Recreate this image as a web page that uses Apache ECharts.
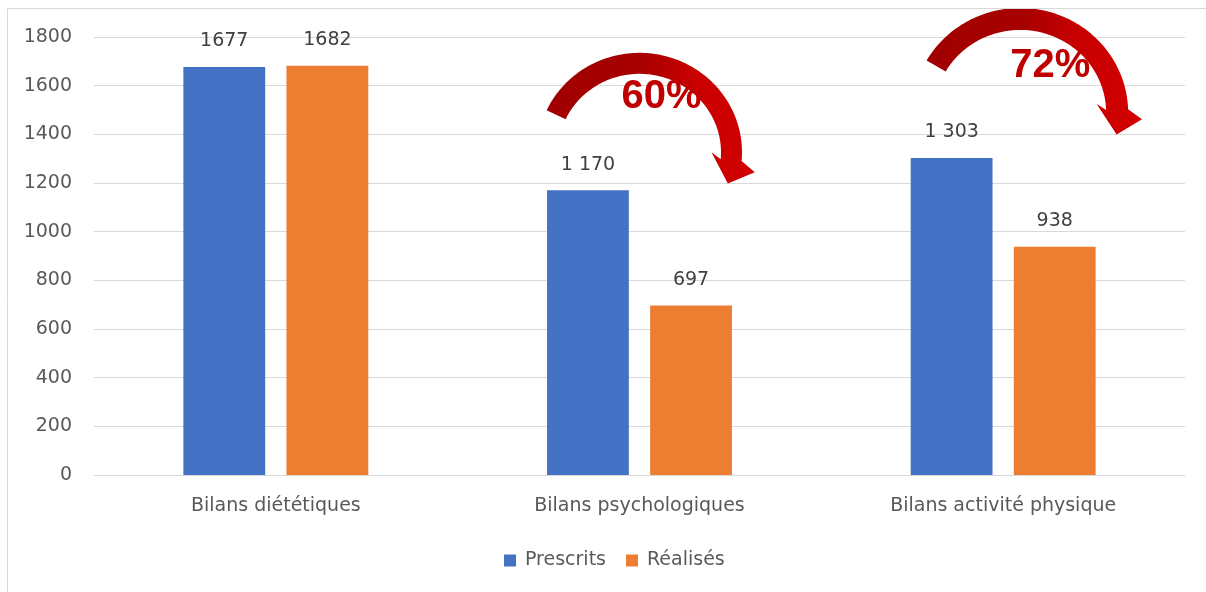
<!DOCTYPE html>
<html>
<head>
<meta charset="utf-8">
<script src="https://cdn.jsdelivr.net/npm/echarts@6/dist/echarts.min.js"></script>
<style>
html,body{margin:0;padding:0;background:#fff;}
#main{width:1206px;height:592px;}
</style>
</head>
<body>
<div id="main"></div>
<script>
// ---- data ----
const categories = ['Bilans diététiques', 'Bilans psychologiques', 'Bilans activité physique'];
const seriesNames = ['Prescrits', 'Réalisés'];
const prescrits = [1677, 1170, 1303];
const realises = [1682, 697, 938];
const prescritsLabels = ['1677', '1 170', '1 303'];
const realisesLabels = ['1682', '697', '938'];
const yTicks = [0, 200, 400, 600, 800, 1000, 1200, 1400, 1600, 1800];
const ratioCategories = [1, 2];
const ratioLabels = ['60%', '72%'];

const FONT = 'DejaVu Sans';
const chart = echarts.init(document.getElementById('main'), null, {renderer: 'canvas'});

const option = {
  animation: false,
  backgroundColor: '#ffffff',
  color: ['#4472C4', '#ED7D31'],
  grid: {left: 94, right: 21, top: 37, bottom: 117, containLabel: false},
  legend: {
    data: seriesNames,
    bottom: 17,
    left: 499,
    icon: 'rect',
    itemWidth: 12,
    itemHeight: 12,
    itemGap: 20,
    textStyle: {fontFamily: FONT, fontSize: 19, color: '#595959', padding: [0, 0, 0, 4]}
  },
  xAxis: {
    type: 'category',
    data: categories,
    axisLine: {lineStyle: {color: '#d9d9d9', width: 1}},
    axisTick: {show: false},
    axisLabel: {fontFamily: FONT, fontSize: 19, color: '#595959', margin: 22}
  },
  yAxis: {
    type: 'value',
    min: yTicks[0],
    max: yTicks[yTicks.length - 1],
    interval: yTicks[1] - yTicks[0],
    axisLine: {show: false},
    axisTick: {show: false},
    splitLine: {lineStyle: {color: '#d9d9d9', width: 1}},
    axisLabel: {fontFamily: FONT, fontSize: 19, color: '#595959', margin: 22, formatter: v => String(v)}
  },
  series: [
    {
      name: seriesNames[0],
      type: 'bar',
      data: prescrits,
      barWidth: '22.5%',
      barGap: '26%',
      label: {
        show: true, position: 'top', distance: 16,
        fontFamily: FONT, fontSize: 19, color: '#404040',
        formatter: p => prescritsLabels[p.dataIndex]
      }
    },
    {
      name: seriesNames[1],
      type: 'bar',
      data: realises,
      barWidth: '22.5%',
      label: {
        show: true, position: 'top', distance: 16,
        fontFamily: FONT, fontSize: 19, color: '#404040',
        formatter: p => realisesLabels[p.dataIndex]
      }
    }
  ]
};
chart.setOption(option);

// ---- curved arrow annotations (elliptical arcs) ----
function rad(a) { return a * Math.PI / 180; }
function pt(cx, cy, rx, ry, d, a) { return [cx + (rx + d) * Math.cos(rad(a)), cy + (ry + d) * Math.sin(rad(a))]; }
function arrowPoints(cx, cy, rx, ry, w, a0, a1) {
  const pts = [];
  for (let a = a0; a <= a1; a += 1.5) pts.push(pt(cx, cy, rx, ry, w / 2, a));
  pts.push(pt(cx, cy, rx, ry, w / 2, a1));
  pts.push(pt(cx, cy, rx, ry, 25, a1 + 5));
  pts.push(pt(cx, cy, rx, ry, 2, a1 + 15));
  pts.push(pt(cx, cy, rx, ry, -20, a1 - 5));
  pts.push(pt(cx, cy, rx, ry, -w / 2, a1));
  for (let a = a1; a >= a0; a -= 1.5) pts.push(pt(cx, cy, rx, ry, -w / 2, a));
  pts.push(pt(cx, cy, rx, ry, -w / 2, a0));
  return pts;
}
// arrow geometry relative to category center
const arrowSpecs = [
  {dx: 0, yVal: 1326, rx: 92, ry: 89, w: 21, a0: -155, a1: 5, tdx: 22, tdy: -55},
  {dx: 17, yVal: 1488, rx: 97, ry: 94, w: 22, a0: -150, a1: -2, tdx: 30, tdy: -47}
];
const graphics = [];
// chart frame (top and left border)
graphics.push({type: 'line', shape: {x1: 7.5, y1: 8.5, x2: 1206, y2: 8.5}, style: {stroke: '#d9d9d9', lineWidth: 1}, z: 20});
graphics.push({type: 'line', shape: {x1: 7.5, y1: 8.5, x2: 7.5, y2: 592}, style: {stroke: '#d9d9d9', lineWidth: 1}, z: 20});
ratioCategories.forEach((ci, i) => {
  const s = arrowSpecs[i];
  const c = chart.convertToPixel({xAxisIndex: 0, yAxisIndex: 0}, [ci, s.yVal]);
  const cx = c[0] + s.dx, cy = c[1];
  graphics.push({
    type: 'polygon',
    shape: {points: arrowPoints(cx, cy, s.rx, s.ry, s.w, s.a0, s.a1)},
    style: {
      fill: {type: 'linear', x: 0, y: 0, x2: 1, y2: 0.3, colorStops: [
        {offset: 0, color: '#A00000'}, {offset: 0.45, color: '#A80000'}, {offset: 0.7, color: '#C80000'}, {offset: 1, color: '#D00000'}
      ]}
    },
    z: 10
  });
  graphics.push({
    type: 'text',
    x: cx + s.tdx, y: cy + s.tdy,
    style: {text: ratioLabels[i], fontFamily: 'Liberation Sans', fontWeight: 'bold', fontSize: 40, fill: '#C00000', align: 'center', verticalAlign: 'middle'},
    z: 11
  });
});
// white mask above the frame so arrows are clipped at the chart border
graphics.push({type: 'rect', shape: {x: 0, y: 0, width: 1206, height: 8}, style: {fill: '#ffffff'}, z: 19});
chart.setOption({graphic: graphics});
</script>
</body>
</html>
